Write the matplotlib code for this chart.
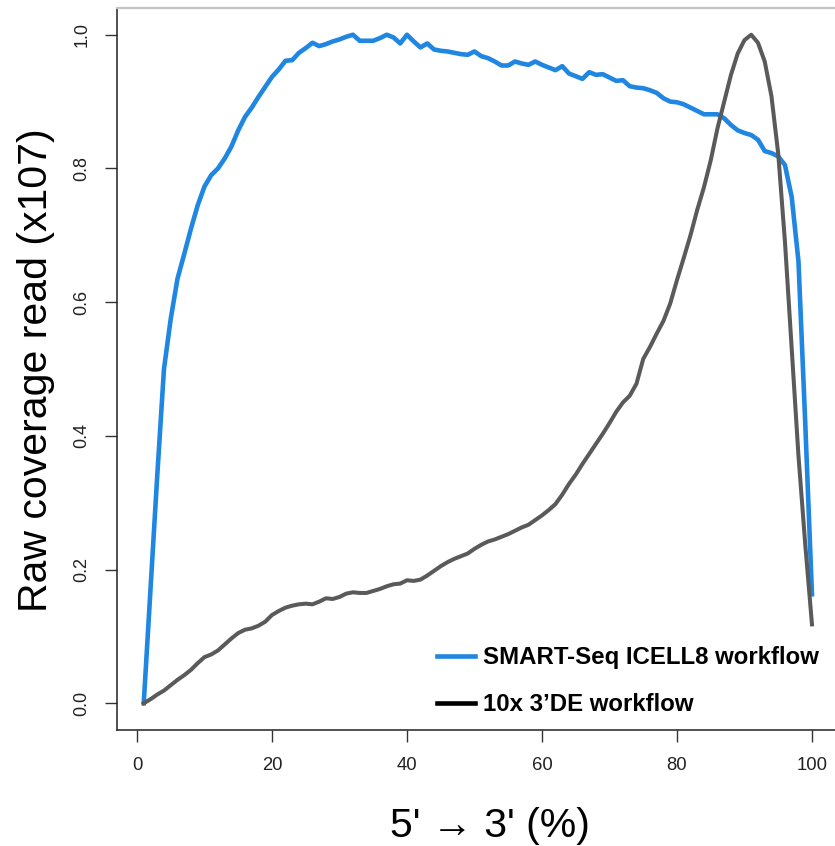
import matplotlib
matplotlib.use("Agg")
import matplotlib.pyplot as plt
from matplotlib import font_manager
from matplotlib.lines import Line2D
import numpy as np

# position along transcript (%)
pos = np.arange(1, 101)

smart_seq = [
    0.000, 0.170, 0.340, 0.500, 0.575, 0.635, 0.672, 0.710, 0.745, 0.773,
    0.790, 0.800, 0.815, 0.833, 0.857, 0.877, 0.891, 0.907, 0.922, 0.937,
    0.948, 0.961, 0.962, 0.973, 0.980, 0.988, 0.983, 0.986, 0.990, 0.993,
    0.997, 1.000, 0.991, 0.991, 0.991, 0.995, 1.000, 0.996, 0.987, 1.000,
    0.990, 0.981, 0.987, 0.978, 0.976, 0.975, 0.973, 0.971, 0.970, 0.975,
    0.968, 0.965, 0.960, 0.954, 0.954, 0.960, 0.957, 0.955, 0.960, 0.955,
    0.951, 0.947, 0.953, 0.942, 0.938, 0.934, 0.944, 0.940, 0.941, 0.936,
    0.931, 0.932, 0.923, 0.921, 0.920, 0.917, 0.913, 0.905, 0.900, 0.899,
    0.896, 0.891, 0.886, 0.881, 0.881, 0.881, 0.875, 0.865, 0.857, 0.853,
    0.850, 0.843, 0.826, 0.823, 0.818, 0.805, 0.757, 0.661, 0.420, 0.163,
]

tenx_3de = [
    0.000, 0.006, 0.013, 0.019, 0.027, 0.035, 0.042, 0.050, 0.060, 0.069,
    0.073, 0.079, 0.088, 0.097, 0.105, 0.110, 0.112, 0.116, 0.122, 0.132,
    0.138, 0.143, 0.146, 0.148, 0.149, 0.148, 0.152, 0.157, 0.156, 0.159,
    0.164, 0.166, 0.165, 0.165, 0.168, 0.171, 0.175, 0.178, 0.179, 0.184,
    0.183, 0.185, 0.191, 0.198, 0.205, 0.211, 0.216, 0.220, 0.224, 0.231,
    0.237, 0.242, 0.245, 0.249, 0.253, 0.258, 0.263, 0.267, 0.274, 0.281,
    0.289, 0.298, 0.312, 0.328, 0.342, 0.358, 0.373, 0.388, 0.403, 0.419,
    0.436, 0.450, 0.460, 0.478, 0.515, 0.533, 0.553, 0.572, 0.598, 0.633,
    0.666, 0.700, 0.738, 0.772, 0.812, 0.860, 0.900, 0.940, 0.972, 0.992,
    1.000, 0.988, 0.960, 0.908, 0.822, 0.690, 0.530, 0.370, 0.238, 0.118,
]

x_ticks = [0, 20, 40, 60, 80, 100]
y_ticks = [0.0, 0.2, 0.4, 0.6, 0.8, 1.0]
labels = ["SMART-Seq ICELL8 workflow", "10x 3\u2019DE workflow"]

blue = "#1f86e2"
grey = "#5a5a5a"

# narrow font for the y tick labels if we have it
try:
    font_manager.findfont("Liberation Sans Narrow", fallback_to_default=False)
    narrow = "Liberation Sans Narrow"
except Exception:
    narrow = None

plt.rcParams["font.family"] = ["Liberation Sans", "DejaVu Sans"]

fig = plt.figure(figsize=(8.35, 8.46), dpi=100)
W, H = 835, 846
# right edge of the box falls just outside the picture
ax = fig.add_axes([117 / W, (H - 730) / H, (838.7 - 117) / W, (730 - 8) / H])

ax.plot(pos, smart_seq, color=blue, lw=3.3, solid_joinstyle="round")
ax.plot(pos, tenx_3de, color=grey, lw=2.9, solid_joinstyle="round")

ax.set_xlim(-2.96, 103.96)
ax.set_ylim(-0.04, 1.04)

ax.set_xticks(x_ticks)
ax.set_xticklabels([str(t) for t in x_ticks])
ax.set_yticks(y_ticks)
ax.set_yticklabels(["%.1f" % t for t in y_ticks])

ax.tick_params(axis="x", direction="out", length=8.6, width=1.0, color="#333333",
               pad=11, labelsize=13.3, labelcolor="#222222")
ax.tick_params(axis="y", direction="out", length=8.3, width=1.0, color="#333333",
               pad=11, labelsize=16 if narrow else 13, labelcolor="#222222",
               labelrotation=90)
for lab in ax.get_yticklabels():
    lab.set_va("center")
    if narrow:
        lab.set_family(narrow)

for side in ["left", "bottom"]:
    ax.spines[side].set_color("#222222")
    ax.spines[side].set_linewidth(1.1)
ax.spines["top"].set_color("#c4c4c4")
ax.spines["top"].set_linewidth(1.6)
ax.spines["right"].set_visible(False)

fig.text(36 / W, 1 - 370 / H, "Raw coverage read (x107)", fontsize=29.5,
         rotation=90, ha="center", va="center")

fig.text(490 / W, 1 - 826 / H, "5' \u2192 3' (%)", fontsize=29.5,
         ha="center", va="center")

handles = [Line2D([], [], color=blue, lw=3.3), Line2D([], [], color="black", lw=3.3)]
leg = ax.legend(handles, labels, loc="upper left", frameon=False,
                bbox_to_anchor=(437 / W, 1 - 646 / H), bbox_transform=fig.transFigure,
                borderpad=0, borderaxespad=0, handlelength=1.58, handletextpad=0.33,
                labelspacing=1.0, prop={"weight": "bold", "size": 17.3})

fig.savefig("out.png", dpi=100)
